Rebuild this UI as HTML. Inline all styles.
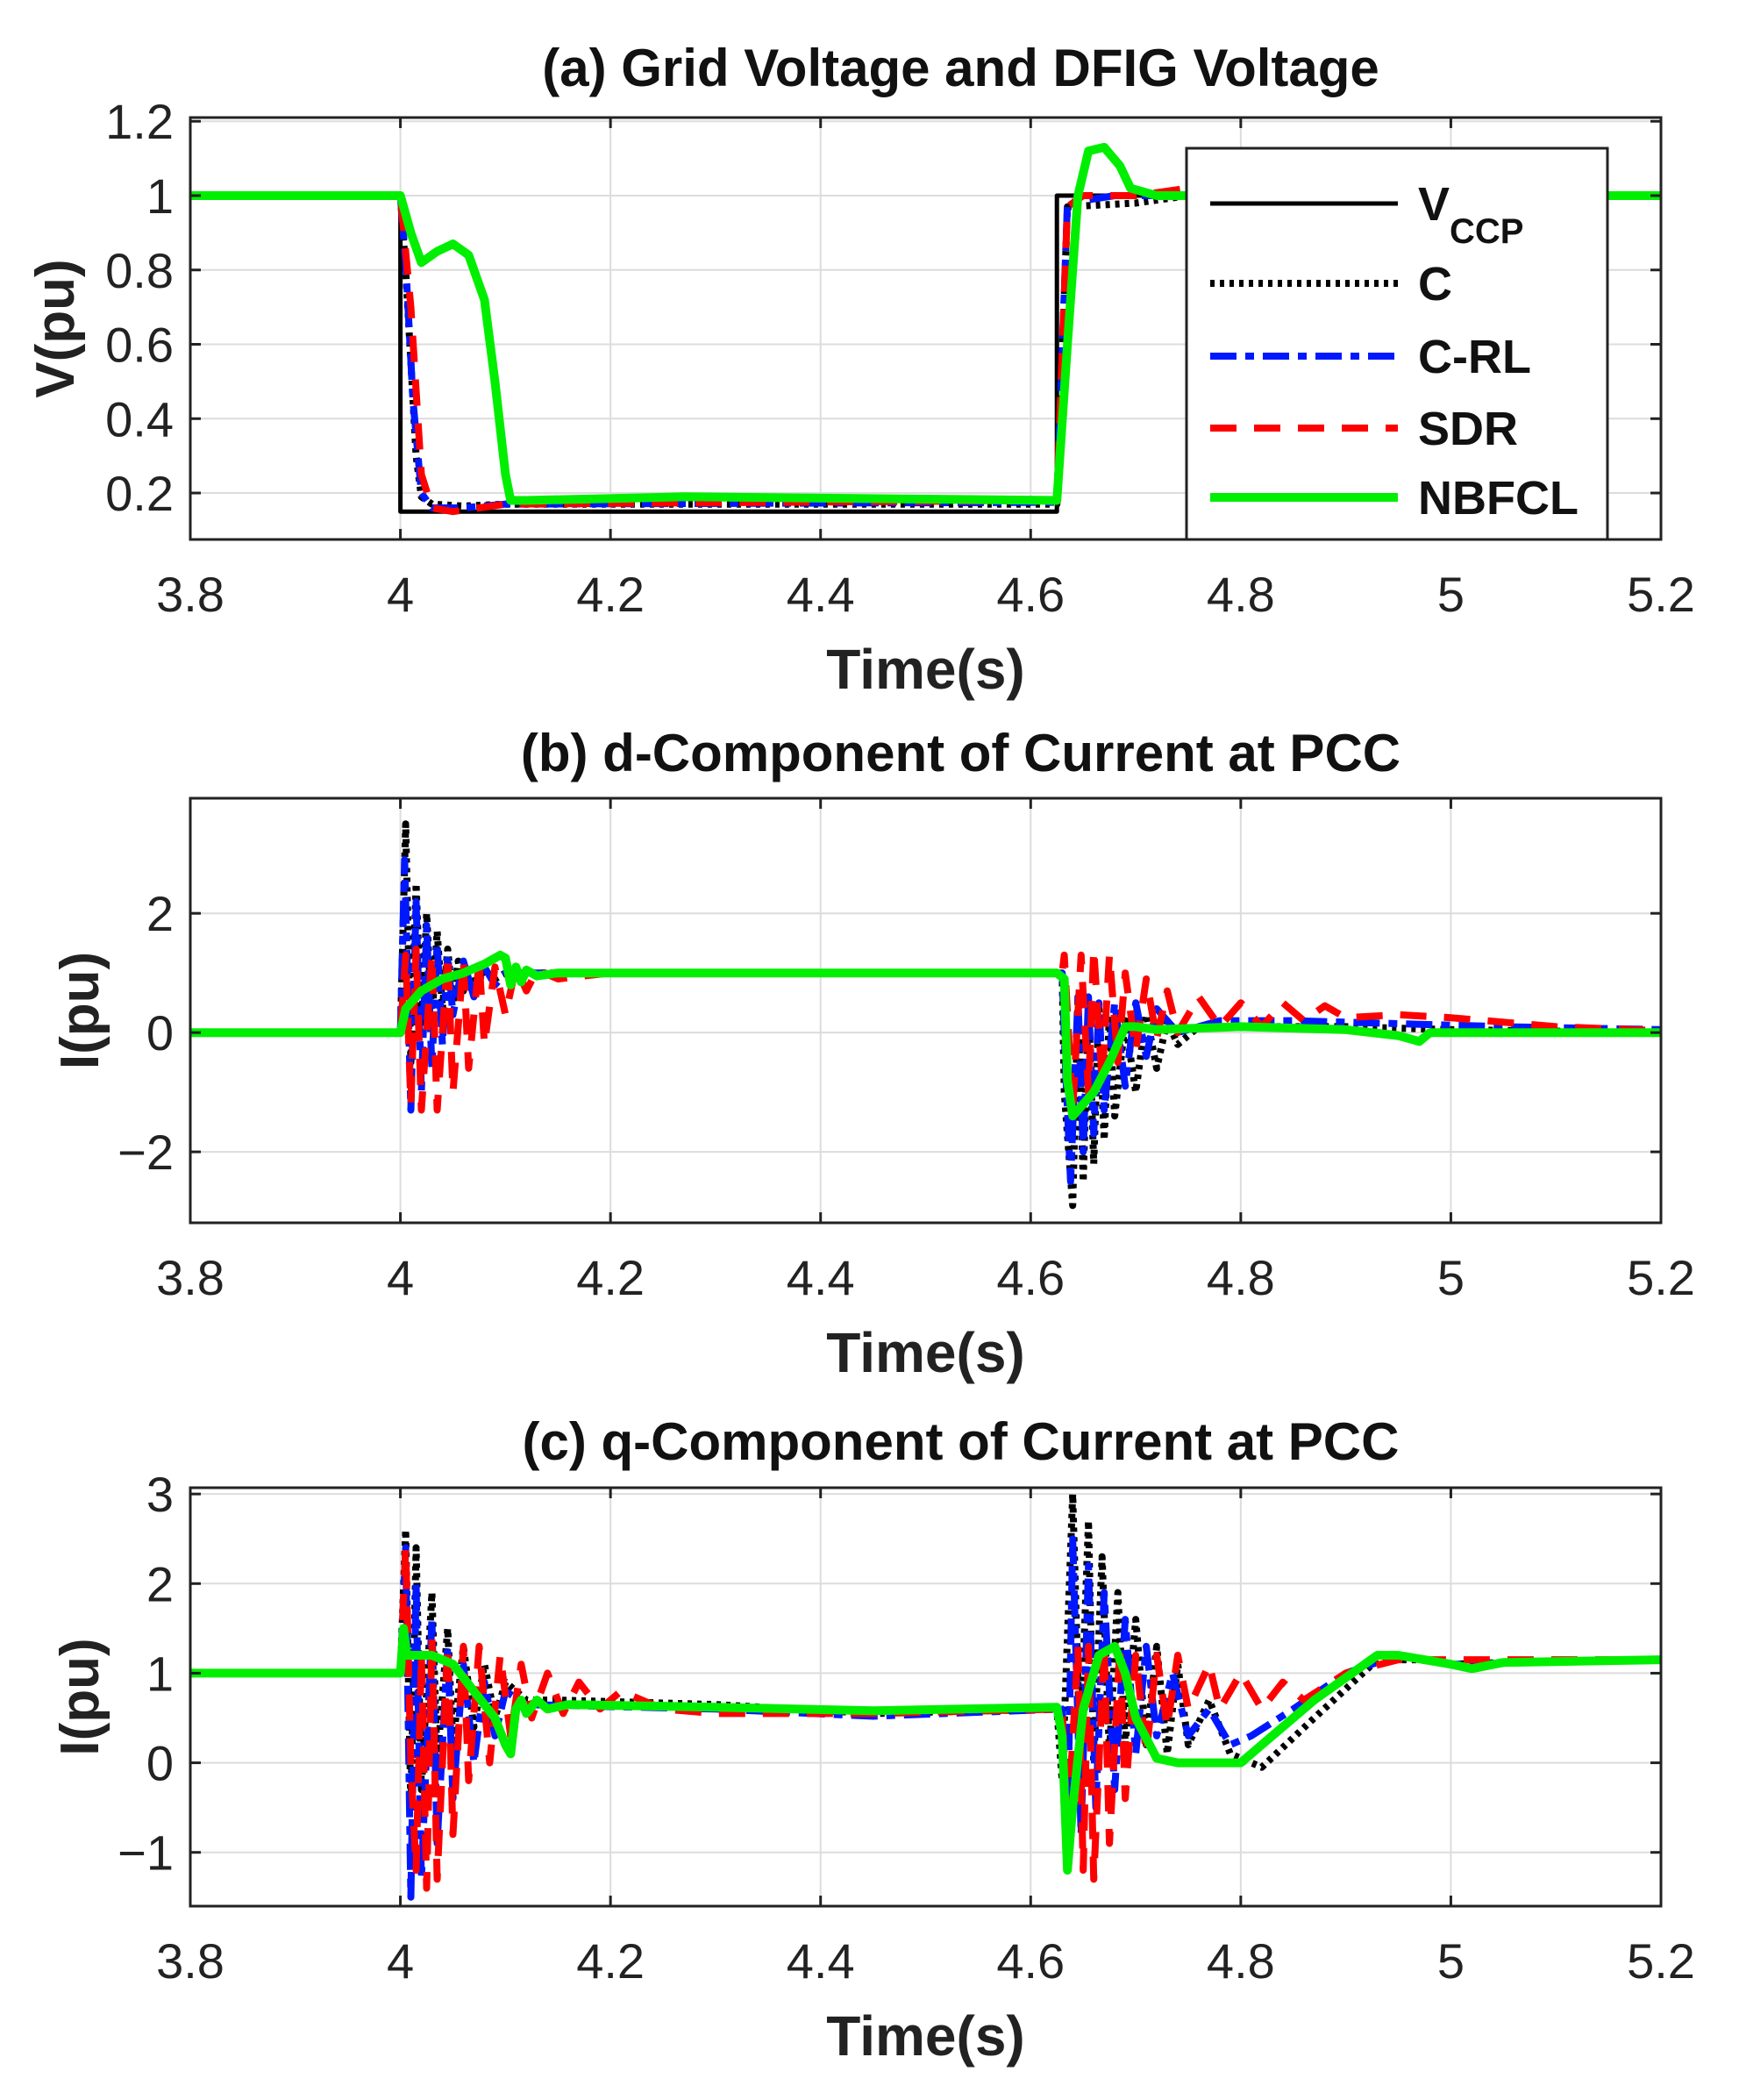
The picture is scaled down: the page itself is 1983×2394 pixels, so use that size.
<!DOCTYPE html>
<html><head><meta charset="utf-8"><style>
html,body{margin:0;padding:0;background:#fff;}
svg{display:block;font-family:"Liberation Sans",Arial,sans-serif;}
</style></head><body>
<svg id="chart" width="1983" height="2394" viewBox="0 0 1983 2394" xmlns="http://www.w3.org/2000/svg"></svg>
<script>
// ---- shared axis data ----
const xTicks = [3.8, 4.0, 4.2, 4.4, 4.6, 4.8, 5.0, 5.2];
const xTickLabels = ["3.8", "4", "4.2", "4.4", "4.6", "4.8", "5", "5.2"];
const seriesNames = ["VCCP", "C", "C-RL", "SDR", "NBFCL"];

// ---- panel (a) ----
const aYTicks = [0.2, 0.4, 0.6, 0.8, 1.0, 1.2];
const aYTickLabels = ["0.2", "0.4", "0.6", "0.8", "1", "1.2"];
const aVccpT = [3.8, 4.0, 4.0, 4.625, 4.625, 5.2];
const aVccpV = [1, 1, 0.15, 0.15, 1, 1];
const aCT = [3.8, 4.0, 4.005, 4.015, 4.02, 4.03, 4.06, 4.1, 4.625, 4.635, 4.7, 4.75, 5.2];
const aCV = [1, 1, 0.8, 0.3, 0.19, 0.17, 0.165, 0.17, 0.17, 0.97, 0.98, 1.0, 1.0];
const aCRLT = [3.8, 4.0, 4.005, 4.012, 4.02, 4.03, 4.06, 4.1, 4.625, 4.635, 4.68, 4.75, 5.2];
const aCRLV = [1, 1, 0.82, 0.45, 0.2, 0.16, 0.16, 0.17, 0.175, 0.98, 1.0, 1.0, 1.0];
const aSDRT = [3.8, 4.0, 4.01, 4.02, 4.03, 4.05, 4.1, 4.625, 4.635, 4.65, 4.7, 4.75, 5.2];
const aSDRV = [1, 1, 0.7, 0.25, 0.16, 0.15, 0.17, 0.18, 0.97, 1.0, 1.0, 1.02, 1.0];
const aNBT = [3.8, 4.0, 4.01, 4.02, 4.035, 4.05, 4.065, 4.08, 4.09, 4.1, 4.105, 4.12, 4.27, 4.625, 4.635, 4.645, 4.655, 4.67, 4.685, 4.695, 4.72, 5.2];
const aNBV = [1, 1, 0.9, 0.82, 0.85, 0.87, 0.84, 0.72, 0.5, 0.25, 0.18, 0.18, 0.19, 0.18, 0.6, 1.0, 1.12, 1.13, 1.08, 1.02, 1.0, 1.0];

// ---- panel (b) ----
const bYTicks = [-2, 0, 2];
const bYTickLabels = ["\u22122", "0", "2"];
const bCT = [3.8, 4.0, 4.005, 4.01, 4.015, 4.02, 4.025, 4.03, 4.035, 4.04, 4.045, 4.05, 4.055, 4.06, 4.065, 4.07, 4.08, 4.09, 4.1, 4.12, 4.15, 4.63, 4.632, 4.64, 4.645, 4.65, 4.655, 4.66, 4.665, 4.67, 4.675, 4.68, 4.69, 4.7, 4.71, 4.72, 4.73, 4.74, 4.76, 4.8, 4.9, 5.0, 5.2];
const bCV = [0, 0, 3.5, -0.5, 2.5, 0, 2, 0.2, 1.7, 0.4, 1.4, 0.5, 1.2, 0.7, 1.1, 0.8, 1.05, 0.9, 1.0, 1.0, 1.0, 1.0, -1, -2.9, 0.5, -2.5, 0.5, -2.2, 0.4, -1.8, 0.3, -1.4, 0.2, -1, 0.3, -0.6, 0.2, -0.2, 0.1, 0.1, 0.1, 0.05, 0];
const bCRLT = [3.8, 4.0, 4.004, 4.01, 4.015, 4.02, 4.025, 4.03, 4.035, 4.04, 4.045, 4.05, 4.06, 4.07, 4.08, 4.09, 4.1, 4.12, 4.63, 4.633, 4.638, 4.645, 4.65, 4.655, 4.66, 4.665, 4.67, 4.68, 4.69, 4.7, 4.71, 4.72, 4.74, 4.78, 4.85, 4.95, 5.05, 5.2];
const bCRLV = [0, 0, 2.9, -1.3, 2.2, -1.0, 1.8, -0.6, 1.5, -0.2, 1.3, 0.3, 1.2, 0.6, 1.1, 0.8, 1.0, 1.0, 1.0, -0.5, -2.5, 0.6, -2.0, 0.6, -1.7, 0.5, -1.3, 0.5, -0.9, 0.5, -0.4, 0.4, 0, 0.2, 0.2, 0.15, 0.1, 0.05];
const bSDRT = [3.8, 4.0, 4.005, 4.01, 4.015, 4.02, 4.03, 4.035, 4.045, 4.05, 4.06, 4.065, 4.075, 4.08, 4.09, 4.1, 4.11, 4.12, 4.13, 4.15, 4.2, 4.63, 4.632, 4.64, 4.648, 4.655, 4.66, 4.668, 4.675, 4.683, 4.69, 4.7, 4.71, 4.72, 4.73, 4.74, 4.76, 4.78, 4.8, 4.82, 4.84, 4.86, 4.88, 4.9, 4.95, 5.0, 5.1, 5.2];
const bSDRV = [0, 0, 1.3, -1.2, 1.4, -1.3, 1.3, -1.3, 1.3, -1.0, 1.2, -0.6, 1.2, -0.2, 1.1, 0.3, 1.1, 0.7, 1.05, 0.9, 1.0, 1.0, 1.3, -1.3, 1.3, -1.0, 1.4, -0.8, 1.3, -0.5, 1.0, -0.3, 0.9, -0.1, 0.7, 0, 0.6, 0.1, 0.5, 0.1, 0.5, 0.2, 0.45, 0.25, 0.3, 0.25, 0.1, 0.03];
const bNBT = [3.8, 4.0, 4.005, 4.02, 4.04, 4.06, 4.08, 4.095, 4.1, 4.105, 4.11, 4.115, 4.12, 4.13, 4.15, 4.625, 4.632, 4.635, 4.64, 4.66, 4.675, 4.69, 4.7, 4.72, 4.8, 4.9, 4.95, 4.97, 4.98, 5.2];
const bNBV = [0, 0, 0.4, 0.7, 0.9, 1.0, 1.15, 1.3, 1.25, 0.8, 1.1, 0.85, 1.05, 0.95, 1.0, 1.0, 0.9, -0.8, -1.4, -1.0, -0.5, 0.1, 0.1, 0.05, 0.1, 0.05, -0.05, -0.15, 0, 0];

// ---- panel (c) ----
const cYTicks = [-1, 0, 1, 2, 3];
const cYTickLabels = ["\u22121", "0", "1", "2", "3"];
const cCT = [3.8, 4.0, 4.005, 4.01, 4.015, 4.02, 4.03, 4.035, 4.045, 4.05, 4.06, 4.07, 4.08, 4.09, 4.1, 4.12, 4.15, 4.3, 4.45, 4.625, 4.63, 4.64, 4.647, 4.655, 4.66, 4.668, 4.675, 4.683, 4.69, 4.7, 4.71, 4.72, 4.73, 4.74, 4.75, 4.77, 4.79, 4.82, 4.87, 4.93, 4.97, 5.0, 5.05, 5.2];
const cCV = [1, 1, 2.6, -0.5, 2.4, -0.3, 1.9, 0, 1.5, 0.2, 1.3, 0.4, 1.1, 0.5, 0.9, 0.7, 0.7, 0.65, 0.55, 0.6, -0.2, 3.0, 0.1, 2.7, 0.0, 2.3, 0.1, 1.9, 0.2, 1.6, 0.2, 1.3, 0.1, 1.1, 0.2, 0.7, 0.1, -0.05, 0.5, 1.15, 1.15, 1.1, 1.12, 1.15];
const cCRLT = [3.8, 4.0, 4.005, 4.01, 4.015, 4.02, 4.03, 4.035, 4.045, 4.05, 4.06, 4.07, 4.08, 4.09, 4.1, 4.12, 4.3, 4.45, 4.63, 4.635, 4.64, 4.648, 4.655, 4.662, 4.67, 4.68, 4.69, 4.7, 4.71, 4.72, 4.735, 4.75, 4.77, 4.79, 4.81, 4.85, 4.9, 4.95, 5.0, 5.2];
const cCRLV = [1, 1, 2.4, -1.5, 2.0, -1.3, 1.6, -0.9, 1.3, -0.4, 1.1, 0, 0.9, 0.3, 0.8, 0.65, 0.6, 0.52, 0.6, -0.8, 2.5, -0.8, 2.2, -0.5, 1.9, -0.3, 1.6, 0.1, 1.3, 0.3, 1.0, 0.3, 0.6, 0.2, 0.3, 0.6, 1.0, 1.2, 1.1, 1.15];
const cSDRT = [3.8, 4.0, 4.005, 4.01, 4.015, 4.02, 4.025, 4.03, 4.035, 4.045, 4.05, 4.06, 4.065, 4.075, 4.085, 4.095, 4.105, 4.115, 4.125, 4.14, 4.155, 4.17, 4.19, 4.21, 4.25, 4.3, 4.45, 4.63, 4.635, 4.645, 4.65, 4.655, 4.66, 4.67, 4.675, 4.685, 4.69, 4.7, 4.71, 4.72, 4.73, 4.74, 4.75, 4.77, 4.78, 4.8, 4.82, 4.84, 4.86, 4.9, 4.95, 5.2];
const cSDRV = [1, 1, 2.4, 0, -1.2, 1.2, -1.4, 1.4, -1.3, 1.3, -0.8, 1.3, -0.2, 1.3, 0, 1.2, 0.3, 1.1, 0.5, 1.0, 0.55, 0.9, 0.6, 0.8, 0.6, 0.55, 0.55, 0.6, -0.8, 1.3, -1.2, 1.3, -1.3, 1.3, -0.9, 1.3, -0.4, 1.2, 0.1, 1.2, 0.4, 1.2, 0.6, 1.1, 0.6, 1.0, 0.6, 0.9, 0.7, 1.0, 1.15, 1.15];
const cNBT = [3.8, 4.0, 4.003, 4.006, 4.03, 4.05, 4.07, 4.09, 4.1, 4.105, 4.11, 4.115, 4.12, 4.13, 4.14, 4.16, 4.3, 4.45, 4.625, 4.63, 4.635, 4.64, 4.65, 4.665, 4.68, 4.69, 4.7, 4.72, 4.74, 4.8, 4.82, 4.87, 4.93, 4.95, 5.0, 5.02, 5.05, 5.2];
const cNBV = [1, 1, 1.5, 1.2, 1.2, 1.1, 0.8, 0.5, 0.2, 0.1, 0.6, 0.7, 0.55, 0.7, 0.6, 0.65, 0.62, 0.58, 0.62, 0.3, -1.2, -0.5, 0.6, 1.2, 1.3, 1.0, 0.5, 0.05, 0, 0, 0.2, 0.7, 1.2, 1.2, 1.1, 1.05, 1.12, 1.15];

const NS = "http://www.w3.org/2000/svg";
const svg = document.getElementById("chart");
function mk(tag, attrs, parent) {
  const e = document.createElementNS(NS, tag);
  for (const k in attrs) e.setAttribute(k, attrs[k]);
  (parent || svg).appendChild(e);
  return e;
}
const L = 217, R = 1894;
const styles = [
  {stroke: "#000", w: 5, dash: ""},
  {stroke: "#000", w: 8, dash: "5,6"},
  {stroke: "#0018ff", w: 8, dash: "30,10,10,10"},
  {stroke: "#ff0000", w: 8, dash: "30,20"},
  {stroke: "#00ee00", w: 10, dash: ""}
];

function panel(id, top, bottom, yMin, yMax, yTicks, yLabs, title, titleY, yLabel, series) {
  const g = mk("g", {});
  
  
  const xs = t => L + (t - 3.8) / 1.4 * (R - L);
  const ys = v => bottom - (v - yMin) / (yMax - yMin) * (bottom - top);
  xTicks.forEach(t => { const gl = mk("line", {x1: xs(t), x2: xs(t), y1: top, y2: bottom, stroke: "#dcdcdc", "stroke-width": 2}, g);
      });
  yTicks.forEach(v => { const gl = mk("line", {x1: L, x2: R, y1: ys(v), y2: ys(v), stroke: "#dcdcdc", "stroke-width": 2}, g);
      });
  const cp = mk("clipPath", {id: "clip-" + id}, g);
  mk("rect", {x: L, y: top, width: R - L, height: bottom - top}, cp);
  const sg = mk("g", {"clip-path": "url(#clip-" + id + ")"}, g);
  series.forEach((s, i) => {
    const st = styles[i];
    const d = s[0].map((t, j) => (j ? "L" : "M") + xs(t).toFixed(1) + "," + ys(s[1][j]).toFixed(1)).join("");
    const p = mk("path", {d: d, fill: "none", stroke: st.stroke, "stroke-width": st.w, "stroke-dasharray": st.dash, "stroke-linejoin": "round"}, sg);
    
    
  });
  const box = mk("rect", {x: L, y: top, width: R - L, height: bottom - top, fill: "none", stroke: "#222", "stroke-width": 3}, g);
   
  xTicks.forEach((t, i) => {
    mk("line", {x1: xs(t), x2: xs(t), y1: top, y2: top + 12, stroke: "#222", "stroke-width": 3}, g);
    mk("line", {x1: xs(t), x2: xs(t), y1: bottom, y2: bottom - 12, stroke: "#222", "stroke-width": 3}, g);
    const tx = mk("text", {x: xs(t), y: bottom + 82, "font-size": 56, "text-anchor": "middle", fill: "#222"}, g);
    tx.textContent = xTickLabels[i];
     
  });
  yTicks.forEach((v, i) => {
    mk("line", {x1: L, x2: L + 12, y1: ys(v), y2: ys(v), stroke: "#222", "stroke-width": 3}, g);
    mk("line", {x1: R, x2: R - 12, y1: ys(v), y2: ys(v), stroke: "#222", "stroke-width": 3}, g);
    const tx = mk("text", {x: 198, y: ys(v) + 20, "font-size": 56, "text-anchor": "end", fill: "#222"}, g);
    tx.textContent = yLabs[i];
     
  });
  const tt = mk("text", {x: (L + R) / 2 + 40, y: titleY + 22, "font-size": 60, "font-weight": "bold", "text-anchor": "middle", fill: "#111"}, g);
  tt.textContent = title;
   
  const xl = mk("text", {x: (L + R) / 2, y: bottom + 170, "font-size": 64, "font-weight": "bold", "text-anchor": "middle", fill: "#222"}, g);
  xl.textContent = "Time(s)";
   
  const cy = (top + bottom) / 2;
  const yl = mk("text", {x: 0, y: 0, "font-size": 62, "font-weight": "bold", "text-anchor": "middle", fill: "#222", transform: "translate(" + (id === "a" ? 84 : 112) + "," + cy + ") rotate(-90)"}, g);
  yl.textContent = yLabel;
   
}

panel("a", 134, 615, 0.075, 1.21, aYTicks, aYTickLabels, "(a) Grid Voltage and DFIG Voltage", 76, "V(pu)",
  [[aVccpT, aVccpV], [aCT, aCV], [aCRLT, aCRLV], [aSDRT, aSDRV], [aNBT, aNBV]]);
panel("b", 910, 1394, -3.19, 3.93, bYTicks, bYTickLabels, "(b) d-Component of Current at PCC", 857, "I(pu)",
  [[[3.8], [0]], [bCT, bCV], [bCRLT, bCRLV], [bSDRT, bSDRV], [bNBT, bNBV]]);
panel("c", 1696, 2173, -1.6, 3.07, cYTicks, cYTickLabels, "(c) q-Component of Current at PCC", 1642, "I(pu)",
  [[[3.8], [1]], [cCT, cCV], [cCRLT, cCRLV], [cSDRT, cSDRV], [cNBT, cNBV]]);

// legend
const lg = mk("g", {});


const lb = mk("rect", {x: 1353, y: 169, width: 480, height: 446, fill: "#fff", stroke: "#222", "stroke-width": 3}, lg);
 
const rows = [232, 323, 406, 488, 567];
seriesNames.forEach((n, i) => {
  const st = styles[i];
  const e = mk("g", {}, lg);
  
  
  mk("line", {x1: 1380, x2: 1594, y1: rows[i], y2: rows[i], stroke: st.stroke, "stroke-width": st.w, "stroke-dasharray": st.dash}, e);
  const t = mk("text", {x: 1617, y: rows[i] + 19, "font-size": 54, "font-weight": "bold", fill: "#111"}, e);
  if (i === 0) {
    t.textContent = "V";
    const sub = mk("tspan", {dy: 26, "font-size": 40}, t);
    sub.textContent = "CCP";
  } else t.textContent = n;
});
</script>
</body></html>
